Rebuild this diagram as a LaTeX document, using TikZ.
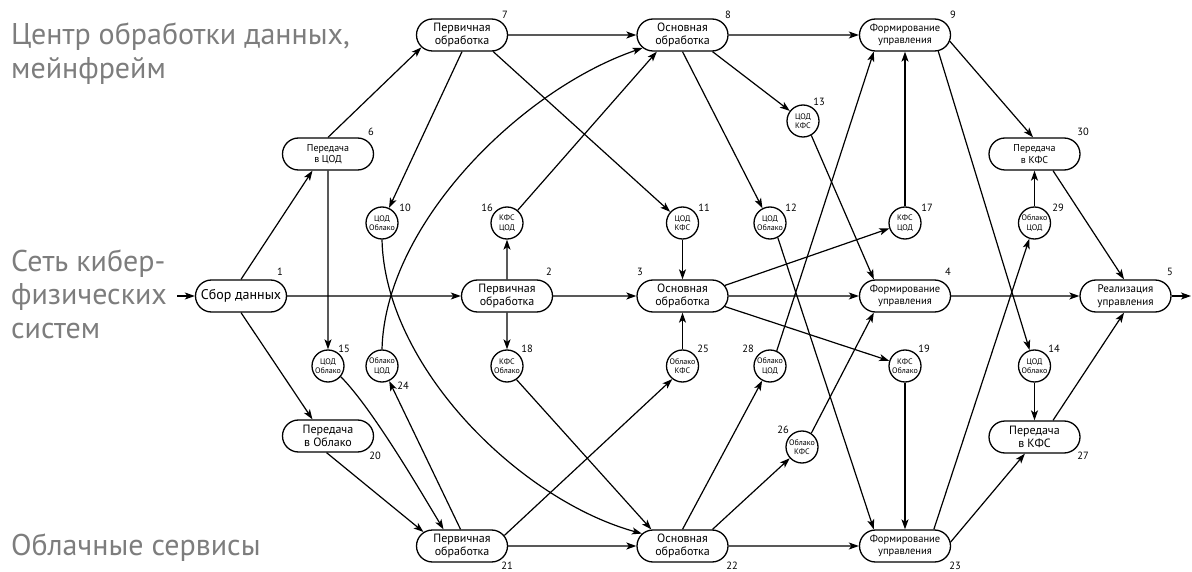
\documentclass[tikz,border=0pt]{standalone}
\usepackage{fontspec}
\setmainfont{PT Sans}
\usetikzlibrary{shapes.misc,arrows.meta}
\definecolor{lanegray}{RGB}{125,125,125}
\tikzset{
  proc/.style={draw, rounded rectangle, minimum width=91pt, minimum height=32pt, inner sep=0pt, align=center, font=\fontsize{12}{13}\selectfont, line width=1.3pt},
  ctrl/.style={proc, font=\fontsize{10.5}{12.5}\selectfont},
  xfer/.style={proc, font=\fontsize{10}{11.5}\selectfont},
  sw/.style={draw, circle, minimum size=32pt, inner sep=0pt, align=center, font=\fontsize{8}{9.5}\selectfont, line width=1.3pt},
  num/.style={font=\fontsize{10.5}{10.5}\selectfont, inner sep=0pt},
  lane/.style={anchor=base west, text=lanegray, font=\fontsize{30}{34}\selectfont, inner sep=0pt},
  arr/.style={-{Stealth[length=10pt,width=7pt,inset=2.5pt]}, line width=1.2pt},
}
\begin{document}
\begin{tikzpicture}[x=1pt,y=-1pt]
\useasboundingbox (0,0) rectangle (1192,572);
% lane labels
\node[lane] (la1) at (11,45) {Центр обработки данных,};
\node[lane] (la2) at (11,79) {мейнфрейм};
\node[lane] (lb1) at (11,272) {Сеть кибер-};
\node[lane] (lb2) at (11,305) {физических};
\node[lane] (lb3) at (11,338) {систем};
\node[lane] (lc1) at (11,555) {Облачные сервисы};
% process nodes
\node[proc,font=\fontsize{14}{16}\selectfont] (n1) at (241,296) {Сбор данных};
\node[proc] (n2) at (507,296) {Первичная\\обработка};
\node[proc] (n3) at (682.5,296) {Основная\\обработка};
\node[ctrl] (n4) at (905,296) {Формирование\\управления};
\node[proc,font=\fontsize{11}{13}\selectfont] (n5) at (1125.5,296) {Реализация\\управления};
\node[xfer] (n6) at (328,154) {Передача\\в ЦОД};
\node[proc] (n7) at (462,35) {Первичная\\обработка};
\node[proc] (n8) at (682.5,35) {Основная\\обработка};
\node[ctrl] (n9) at (905,35) {Формирование\\управления};
\node[xfer] (n30) at (1034.5,154) {Передача\\в КФС};
\node[proc] (n20) at (328,436) {Передача\\в Облако};
\node[proc] (n21) at (462,546) {Первичная\\обработка};
\node[proc] (n22) at (682.5,546) {Основная\\обработка};
\node[ctrl] (n23) at (905,546) {Формирование\\управления};
\node[proc] (n27) at (1034.5,437) {Передача\\в КФС};
% switching circles
\node[sw] (c10) at (382,223) {ЦОД\\Облако};
\node[sw] (c16) at (507,223) {КФС\\ЦОД};
\node[sw] (c11) at (682.5,223) {ЦОД\\КФС};
\node[sw] (c12) at (770,223) {ЦОД\\Облако};
\node[sw] (c17) at (905,223) {КФС\\ЦОД};
\node[sw] (c29) at (1034.5,223) {Облако\\ЦОД};
\node[sw] (c15) at (328,366) {ЦОД\\Облако};
\node[sw] (c24) at (382,366) {Облако\\ЦОД};
\node[sw] (c18) at (507,366) {КФС\\Облако};
\node[sw] (c25) at (682.5,366) {Облако\\КФС};
\node[sw] (c28) at (770,366) {Облако\\ЦОД};
\node[sw] (c19) at (905,366) {КФС\\Облако};
\node[sw] (c14) at (1034.5,366) {ЦОД\\Облако};
\node[sw] (c13) at (803,121) {ЦОД\\КФС};
\node[sw] (c26) at (802,447) {Облако\\КФС};
% numbers
\node[num] (l1) at (280,272) {1};
\node[num] (l2) at (549,272) {2};
\node[num] (l3) at (640,272) {3};
\node[num] (l4) at (948,272) {4};
\node[num] (l5) at (1170,272) {5};
\node[num] (l6) at (371,132) {6};
\node[num] (l7) at (505,15) {7};
\node[num] (l8) at (728,15) {8};
\node[num] (l9) at (953,15) {9};
\node[num] (l30) at (1083,132) {30};
\node[num] (l10) at (405,208) {10};
\node[num] (l11) at (704,208) {11};
\node[num] (l12) at (791,208) {12};
\node[num] (l13) at (819,102) {13};
\node[num] (l16) at (487,208) {16};
\node[num] (l17) at (927,208) {17};
\node[num] (l29) at (1058,208) {29};
\node[num] (l15) at (344,349) {15};
\node[num] (l18) at (527,349) {18};
\node[num] (l19) at (924,349) {19};
\node[num] (l14) at (1054,349) {14};
\node[num] (l25) at (703,349) {25};
\node[num] (l28) at (748,349) {28};
\node[num] (l24) at (403,386) {24};
\node[num] (l26) at (783,430) {26};
\node[num] (l20) at (375,456) {20};
\node[num] (l27) at (1083,456) {27};
\node[num] (l21) at (507,566) {21};
\node[num] (l22) at (732,566) {22};
\node[num] (l23) at (955,566) {23};
% connectors
\coordinate (in) at (177,296);
\coordinate (out) at (1191,296);
\draw[arr] (in) -- (n1.west);
\draw[arr] (n5.east) -- (out);
\draw[arr] (n1.north) -- (n6.-133);
\draw[arr] (n1) -- (n2);
\draw[arr] (n1.south) -- (n20.133);
\draw[arr] (n6.north) -- (n7.-163);
\draw[arr] (n6) -- (c15);
\draw[arr] (n7.south) -- (c10);
\draw[arr] (n7) -- (n8);
\draw[arr] (n7.-28) -- (c11);
\draw[arr] (n20.-95) -- (n21.160);
\draw[arr] (c15.-40) .. controls (372,408) and (421,492) .. (n21.138);
\draw[arr] (n21.95) -- (c24);
\draw[arr] (c24.north) .. controls (385,225) and (520,90) .. (n8.-162);
\draw[arr] (c10.south) .. controls (385,367) and (520,500) .. (n22.163);
\draw[arr] (n2) -- (c16);
\draw[arr] (n2) -- (c18);
\draw[arr] (n2) -- (n3);
\draw[arr] (c16.50) -- (n8.-147);
\draw[arr] (c18.-55) -- (n22.152);
\draw[arr] (n21) -- (n22);
\draw[arr] (n21.14) -- (c25.-128);
\draw[arr] (c11) -- (n3);
\draw[arr] (c25) -- (n3);
\draw[arr] (n3) -- (n4);
\draw[arr] (n8) -- (n9);
\draw[arr] (n8.-29) -- (c13);
\draw[arr] (n8.south) -- (c12);
\draw[arr] (n22) -- (n23);
\draw[arr] (n22.north) -- (c28);
\draw[arr] (n22.29) -- (c26);
\draw[arr] (n3.14) -- (c17);
\draw[arr] (n3.-14) -- (c19);
\draw[arr] (c12.-62) -- (n23.152);
\draw[arr] (c28.66) -- (n9.-152);
\draw[arr] (c13.-60) -- (n4.152);
\draw[arr] (c26.56) -- (n4.-152);
\draw[arr] (c17) -- (n9);
\draw[arr] (c19) -- (n23);
\draw[arr] (n4) -- (n5);
\draw[arr] (n9.-8) -- (n30.95);
\draw[arr] (n9.-26) -- (c14);
\draw[arr] (n23.30) -- (c29);
\draw[arr] (n23.5) -- (n27.-120);
\draw[arr] (c29) -- (n30);
\draw[arr] (c14) -- (n27);
\draw[arr] (n30.-42) -- (n5.95);
\draw[arr] (n27.42) -- (n5.-95);
\end{tikzpicture}
\end{document}
